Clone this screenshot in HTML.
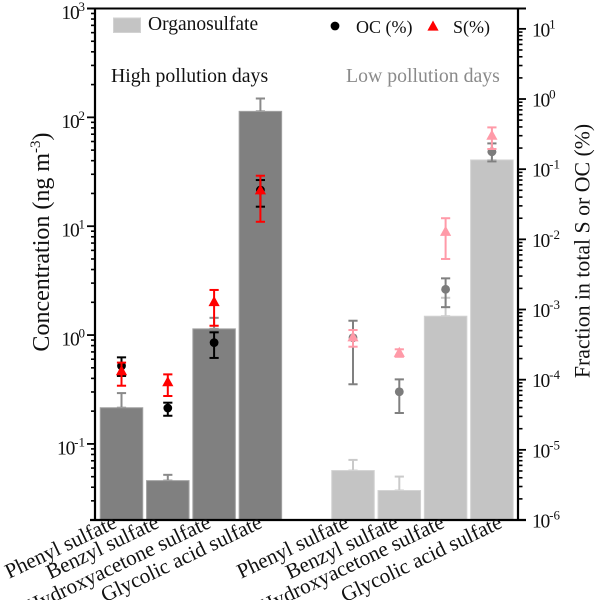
<!DOCTYPE html>
<html>
<head>
<meta charset="utf-8">
<style>
html,body{margin:0;padding:0;background:#fff;width:600px;height:600px;overflow:hidden}
svg{display:block}
text{font-family:"Liberation Serif",serif}
</style>
</head>
<body>
<svg id="chart" xmlns="http://www.w3.org/2000/svg" width="600" height="600" viewBox="0 0 600 600"></svg>
<script>
// ---- Data ----
const categories = ["Phenyl sulfate","Benzyl sulfate","Hydroxyacetone sulfate","Glycolic acid sulfate"];
const leftTickExponents = [-1,0,1,2,3];
const rightTickExponents = [-6,-5,-4,-3,-2,-1,0,1];
// Concentration, ng m-3 (left axis)
const highBar = [0.215,0.046,1.14,113.5];
const highBarUpper = [0.293,0.052,1.44,149];
const lowBar = [0.0569,0.0373,1.49,40.6];
const lowBarUpper = [0.0713,0.0501,2.2,48];
// Fraction, % (right axis)
const highOC = [1.57e-4,3.94e-5,3.37e-4,0.0505];
const highOCUpper = [2.08e-4,4.70e-5,4.73e-4,0.0700];
const highOCLower = [1.13e-4,3.06e-5,2.04e-4,0.0292];
const highS = [1.30e-4,9.06e-5,1.26e-3,0.0493];
const highSUpper = [1.75e-4,1.19e-4,1.90e-3,0.0807];
const highSLower = [8.2e-5,5.85e-5,5.87e-4,0.0178];
const lowOC = [3.96e-4,6.73e-5,1.94e-3,0.177];
const lowOCUpper = [6.92e-4,1.01e-4,2.78e-3,0.233];
const lowOCLower = [8.6e-5,3.35e-5,1.08e-3,0.129];
const lowS = [3.96e-4,2.38e-4,0.0126,0.296];
const lowSUpper = [5.1e-4,2.71e-4,0.0200,0.394];
const lowSLower = [2.95e-4,2.12e-4,0.00525,0.194];

// ---- Layout ----
const plotLeft = 95, plotRight = 518, plotTop = 8.5, plotBottom = 520;
const leftMin = 0.02, leftMax = 1000, rightMin = 1e-6, rightMax = 19.5;
const slotStart = 121.5, slotStep = 46.3, lowGroupOffset = 5;
const barWidth = 42.5, capHalf = 4.6;
const labelNudgeHigh = [-3.5,-7.5,-2,3];
const labelNudgeLow = [-3,0.5,0,11.5];
const svg = document.getElementById('chart');
const NS = 'http://www.w3.org/2000/svg';

function xAt(i){ return slotStart + slotStep * i; }
function yLeft(v){
  return plotBottom - (Math.log10(v) - Math.log10(leftMin)) / (Math.log10(leftMax) - Math.log10(leftMin)) * (plotBottom - plotTop);
}
function yRight(v){
  return plotBottom - (Math.log10(v) - Math.log10(rightMin)) / (Math.log10(rightMax) - Math.log10(rightMin)) * (plotBottom - plotTop);
}
function make(tag, attrs){
  const el = document.createElementNS(NS, tag);
  for (const k in attrs) el.setAttribute(k, attrs[k]);
  svg.appendChild(el);
  return el;
}
function segment(x1,y1,x2,y2,color,w,name){
  const el = make('line',{x1:x1,y1:y1,x2:x2,y2:y2,stroke:color,'stroke-width':w});
  
  
  return el;
}
function errorBar(x,yHi,yLo,color,name){
  segment(x,yHi,x,yLo,color,2,name);
  segment(x-capHalf,yHi,x+capHalf,yHi,color,2,name+'-upper-cap');
  segment(x-capHalf,yLo,x+capHalf,yLo,color,2,name+'-lower-cap');
}
function drawBar(i,val,upper,fill,edge,capColor,name){
  const x = xAt(i);
  errorBar(x,yLeft(upper),yLeft(val),capColor,name+'-error');
  const top = yLeft(val);
  const r = make('rect',{x:x-barWidth/2,y:top,width:barWidth,height:plotBottom-top,fill:fill,stroke:edge,'stroke-width':1});
  
  
}
function circle(x,y,color,name){
  const c = make('circle',{cx:x,cy:y,r:4.4,fill:color});
  
  
}
function triangle(x,y,color,name){
  const p = make('polygon',{points:(x)+','+(y-6.5)+' '+(x+5.6)+','+(y+3.6)+' '+(x-5.6)+','+(y+3.6),fill:color});
  
  
}
function label(x,y,str,size,fill,anchor,name){
  const t = make('text',{x:x,y:y,'font-size':size,fill:fill,'text-anchor':anchor||'start'});
  t.textContent = str;
  
  
  return t;
}
function powerLabel(x,y,exp,anchor,name){
  const t = make('text',{x:x,y:y,'font-size':19.5,fill:'#111','text-anchor':anchor});
  
  
  const a = document.createElementNS(NS,'tspan');
  a.setAttribute('letter-spacing','-1.2');
  a.textContent = '10';
  t.appendChild(a);
  const b = document.createElementNS(NS,'tspan');
  b.setAttribute('dy','-8');
  b.setAttribute('font-size','13');
  b.textContent = String(exp);
  t.appendChild(b);
}

// ---- Bars ----
categories.forEach(function(c,i){
  const slug = c.toLowerCase().replace(/ /g,'-');
  drawBar(i,highBar[i],highBarUpper[i],'#808080','#a2a2a2','#8a8a8a','high-bar-'+slug);
  drawBar(i+lowGroupOffset,lowBar[i],lowBarUpper[i],'#c4c4c4','#d2d2d2','#cacaca','low-bar-'+slug);
});

// ---- Points ----
categories.forEach(function(c,i){
  const slug = c.toLowerCase().replace(/ /g,'-');
  const xh = xAt(i), xl = xAt(i+lowGroupOffset);
  errorBar(xh,yRight(highOCUpper[i]),yRight(highOCLower[i]),'#000','high-oc-error-'+slug);
  circle(xh,yRight(highOC[i]),'#000','high-oc-point-'+slug);
  errorBar(xh,yRight(highSUpper[i]),yRight(highSLower[i]),'#ff0000','high-s-error-'+slug);
  triangle(xh,yRight(highS[i]),'#ff0000','high-s-point-'+slug);
  errorBar(xl,yRight(lowOCUpper[i]),yRight(lowOCLower[i]),'#808080','low-oc-error-'+slug);
  circle(xl,yRight(lowOC[i]),'#7c7c7c','low-oc-point-'+slug);
  errorBar(xl,yRight(lowSUpper[i]),yRight(lowSLower[i]),'#ff9aa8','low-s-error-'+slug);
  triangle(xl,yRight(lowS[i]),'#ff9aa8','low-s-point-'+slug);
});

// ---- Axes frame ----
segment(plotLeft,plotTop-1,plotLeft,plotBottom+1,'#000',2.2,'left-axis-line');
segment(plotRight,plotTop-1,plotRight,plotBottom+1,'#000',2.2,'right-axis-line');
segment(87,plotTop,526,plotTop,'#000',2,'top-axis-line');
segment(90,plotBottom,526,plotBottom,'#000',2.2,'bottom-axis-line');

// ---- Left ticks ----
leftTickExponents.forEach(function(e){
  const v = Math.pow(10,e), y = yLeft(v);
  segment(87,y,plotLeft,y,'#000',1.8,'left-major-tick');
  powerLabel(85,y+10.5,e,'end','left-tick-label');
});
[-2,-1,0,1,2].forEach(function(e){
  for (let m=2;m<=9;m++){
    const v = m*Math.pow(10,e);
    if (v<=leftMin || v>=leftMax) continue;
    const y = yLeft(v);
    segment(91,y,plotLeft,y,'#000',1.6,'left-minor-tick');
  }
});

// ---- Right ticks ----
rightTickExponents.forEach(function(e){
  const v = Math.pow(10,e), y = yRight(v);
  segment(plotRight,y,526,y,'#000',1.8,'right-major-tick');
  powerLabel(532,y+7.5,e,'start','right-tick-label');
});
rightTickExponents.forEach(function(e){
  for (let m=2;m<=9;m++){
    const v = m*Math.pow(10,e);
    if (v>=rightMax) continue;
    const y = yRight(v);
    segment(plotRight,y,522.5,y,'#000',1.6,'right-minor-tick');
  }
});

// ---- Category labels ----
function categoryLabel(x,str,name){
  const t = label(x,527,str,21.2,'#111','end',name);
  t.setAttribute('transform','rotate(-25.5 '+x+' 527)');
}
categories.forEach(function(c,i){
  const slug = c.toLowerCase().replace(/ /g,'-');
  categoryLabel(xAt(i)+labelNudgeHigh[i],c,'high-category-label-'+slug);
  categoryLabel(xAt(i+lowGroupOffset)+labelNudgeLow[i],c,'low-category-label-'+slug);
});

// ---- Axis titles ----
const yTitle = make('text',{x:0,y:0,'font-size':24,fill:'#111','text-anchor':'middle',transform:'translate(49 242) rotate(-90)'});


const yTitleMain = document.createElementNS(NS,'tspan');
yTitleMain.textContent = 'Concentration (ng m';
yTitle.appendChild(yTitleMain);
const yTitleSup = document.createElementNS(NS,'tspan');
yTitleSup.setAttribute('dy','-9');
yTitleSup.setAttribute('font-size','15');
yTitleSup.textContent = '-3';
yTitle.appendChild(yTitleSup);
const yTitleEnd = document.createElementNS(NS,'tspan');
yTitleEnd.setAttribute('dy','9');
yTitleEnd.textContent = ')';
yTitle.appendChild(yTitleEnd);

const rTitle = label(0,0,'Fraction in total S or OC (%)',21.8,'#111','middle','right-axis-title');
rTitle.setAttribute('transform','translate(589.5 251) rotate(-90)');

// ---- Legend and annotations ----
const swatch = make('rect',{x:113.5,y:18,width:27,height:14.5,fill:'#c4c4c4',stroke:'#d2d2d2','stroke-width':1});


label(148,30,'Organosulfate',19.5,'#111','start','legend-label-organosulfate');
circle(335,26,'#000','legend-marker-oc');
label(356,33,'OC (%)',18,'#111','start','legend-label-oc');
triangle(433,27,'#ff0000','legend-marker-s');
label(453,33,'S(%)',18,'#111','start','legend-label-s');
label(111,82,'High pollution days',19.8,'#111','start','high-pollution-label');
label(346,82,'Low pollution days',19.8,'#8a8a8a','start','low-pollution-label');
</script>
</body>
</html>
